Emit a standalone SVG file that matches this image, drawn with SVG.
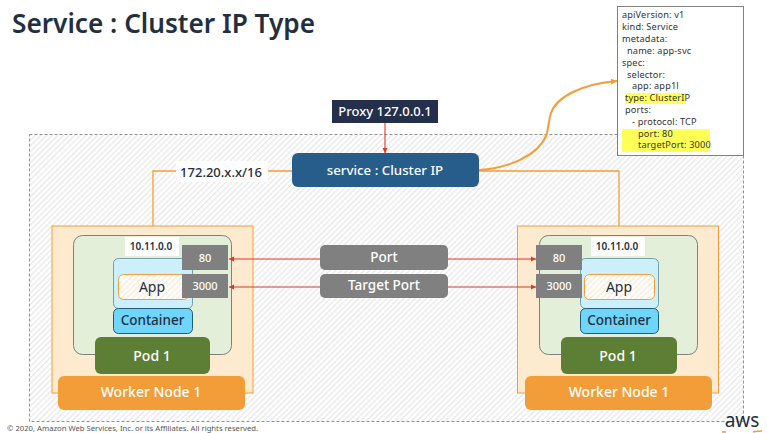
<svg xmlns="http://www.w3.org/2000/svg" width="767" height="433" viewBox="0 0 767 433">
<style>
text{font-family:"Noto Sans","Open Sans",sans-serif;text-anchor:middle}
.w{fill:#fff;font-weight:500}
.d{fill:#232f3e}
.y{font-size:9.2px;letter-spacing:.15px;text-anchor:start;fill:#333}
.o{fill:none;stroke:#f29d38;stroke-width:1.3}
.r{fill:none;stroke:#e0352b;stroke-width:1.1;marker-end:url(#a)}
.g{fill:#808080}
</style>
<defs>
<pattern id="h" width="4" height="4" patternUnits="userSpaceOnUse" patternTransform="rotate(-45)"><rect width="4" height="4" fill="#fff"/><rect width="4" height="1.200" fill="#e6e6e6"/></pattern>
<pattern id="h2" width="4" height="4" patternUnits="userSpaceOnUse" patternTransform="rotate(-45)"><rect width="4" height="4" fill="#fff"/><rect width="4" height="1.200" fill="#fde9d2"/></pattern>
<marker id="a" markerUnits="userSpaceOnUse" markerWidth="6" markerHeight="6" refX="5" refY="3" orient="auto"><path d="M0 .5L5 3L0 5.500z" fill="#e0352b"/></marker>
<marker id="b" markerUnits="userSpaceOnUse" markerWidth="8" markerHeight="8" refX="6" refY="4" orient="auto"><path d="M0 1L6 4L0 7z" fill="#f29d38"/></marker>
</defs>
<rect width="767" height="433" fill="#fff"/>
<text x="12" y="33" style="text-anchor:start;font-size:26.200px;font-weight:600" fill="#232f3e">Service : Cluster IP Type</text>
<rect id="cluster" x="29.500" y="134.500" width="714" height="287" fill="url(#h)" stroke="#777" stroke-width=".8" stroke-dasharray="3 2"/>
<g id="worker-left">
<rect x="52" y="226" width="201" height="167" fill="#fdeacf" stroke="#f29d38"/>
<rect x="73.500" y="235.500" width="158" height="119" rx="9" fill="#e4efd9" stroke="#808080"/>
<rect x="125" y="237" width="54" height="19" fill="#fff"/>
<text x="151" y="250" font-size="10" font-weight="600" class="d">10.11.0.0</text>
<rect x="113.500" y="258.500" width="79" height="50" rx="5" fill="#ccf0fb" stroke="#5a8a9c" stroke-width=".8"/>
<rect x="118.500" y="274.500" width="70" height="25" rx="5" fill="url(#h2)" stroke="#f29d38"/>
<text x="152" y="292" font-size="14" class="d">App</text>
<rect x="113.500" y="308.500" width="79" height="25" rx="5" fill="#6fd5fb" stroke="#1f5c7a"/>
<text x="152.500" y="325" font-size="13.500" font-weight="500" class="d">Container</text>
<rect x="182" y="245" width="46" height="25" class="g"/>
<text x="205" y="262" font-size="11" class="w">80</text>
<rect x="182" y="274" width="46" height="24" class="g"/>
<text x="205" y="290" font-size="11" class="w">3000</text>
<rect x="95" y="337" width="115" height="37" rx="6" fill="#5c7f35"/>
<text x="152" y="361" font-size="14" class="w">Pod 1</text>
<rect x="58" y="376" width="187" height="34" rx="6" fill="#f29d38"/>
<text x="151" y="397" font-size="14" class="w">Worker Node 1</text>
</g>
<g id="worker-right">
<rect x="517.500" y="226" width="201" height="167" fill="#fdeacf" stroke="#f29d38"/>
<rect x="539.500" y="235.500" width="158" height="119" rx="9" fill="#e4efd9" stroke="#808080"/>
<rect x="591" y="237" width="54" height="19" fill="#fff"/>
<text x="617" y="250" font-size="10" font-weight="600" class="d">10.11.0.0</text>
<rect x="580.500" y="258.500" width="78" height="50" rx="5" fill="#ccf0fb" stroke="#5a8a9c" stroke-width=".8"/>
<rect x="584.500" y="274.500" width="70" height="25" rx="5" fill="url(#h2)" stroke="#f29d38"/>
<text x="619" y="292" font-size="14" class="d">App</text>
<rect x="580.500" y="308.500" width="78" height="25" rx="5" fill="#6fd5fb" stroke="#1f5c7a"/>
<text x="619" y="325" font-size="13.500" font-weight="500" class="d">Container</text>
<rect x="536" y="245" width="46" height="25" class="g"/>
<text x="559" y="262" font-size="11" class="w">80</text>
<rect x="536" y="274" width="46" height="24" class="g"/>
<text x="559" y="290" font-size="11" class="w">3000</text>
<rect x="561" y="337" width="116" height="37" rx="6" fill="#5c7f35"/>
<text x="618" y="361" font-size="14" class="w">Pod 1</text>
<rect x="525" y="376" width="187" height="34" rx="6" fill="#f29d38"/>
<text x="619" y="397" font-size="14" class="w">Worker Node 1</text>
</g>
<g id="connectors">
<path class="o" d="M153 226V171H292"/>
<path class="o" d="M619 226V171H479"/>
<path d="M479 170C510 168 538 155 546 136C549 128 548 122 551 113C557 96 583 84 617 81" fill="none" stroke="#f29d38" stroke-width="2" marker-end="url(#b)"/>
<path class="r" d="M385 123V153"/>
<path class="r" d="M320 259H229"/>
<path class="r" d="M320 287H229"/>
<path class="r" d="M448 259H536"/>
<path class="r" d="M448 287H536"/>
</g>
<g id="cidr"><rect x="176" y="161" width="92" height="21" fill="#fff"/><text x="221" y="177" font-size="13" font-weight="500" class="d">172.20.x.x/16</text></g>
<g id="proxy"><rect x="332" y="100" width="106" height="23" fill="#232f4b"/><text x="385" y="116" font-size="13" class="w">Proxy 127.0.0.1</text></g>
<g id="service"><rect x="292" y="153" width="187" height="34" rx="6" fill="#275d8b"/><text x="385" y="175" font-size="13.300" class="w">service : Cluster IP</text></g>
<g id="port"><rect x="320" y="245" width="128" height="25" rx="5" class="g"/><text x="384" y="262" font-size="13.500" class="w">Port</text></g>
<g id="target-port"><rect x="320" y="274" width="128" height="24" rx="5" class="g"/><text x="384" y="290" font-size="13.500" class="w">Target Port</text></g>
<g id="yaml">
<rect x="617.500" y="6.500" width="126" height="149" fill="#fff" stroke="#808080"/>
<rect x="625" y="93" width="61" height="11" fill="#ffff55"/>
<rect x="622" y="129" width="88" height="23" fill="#ffff55"/>
<text class="y" x="622" y="18">apiVersion: v1</text>
<text class="y" x="622" y="30">kind: Service</text>
<text class="y" x="622" y="42">metadata:</text>
<text class="y" x="627" y="54">name: app-svc</text>
<text class="y" x="622" y="65.500">spec:</text>
<text class="y" x="627" y="77.500">selector:</text>
<text class="y" x="632" y="89">app: app1l</text>
<text class="y" x="625" y="101">type: ClusterIP</text>
<text class="y" x="625" y="113">ports:</text>
<text class="y" x="632" y="124.500">- protocol: TCP</text>
<text class="y" x="638" y="136.500">port: 80</text>
<text class="y" x="638" y="148">targetPort: 3000</text>
</g>
<text x="7" y="431" style="text-anchor:start;font-size:7.700px" fill="#555">© 2020, Amazon Web Services, Inc. or its Affiliates. All rights reserved.</text>
<g id="logo"><text x="742" y="427" font-size="19" fill="#232f3e">aws</text><path d="M722 432H726M753 432Q757 431 762 431" fill="none" stroke="#f29d38" stroke-width="1.500"/></g>
</svg>
